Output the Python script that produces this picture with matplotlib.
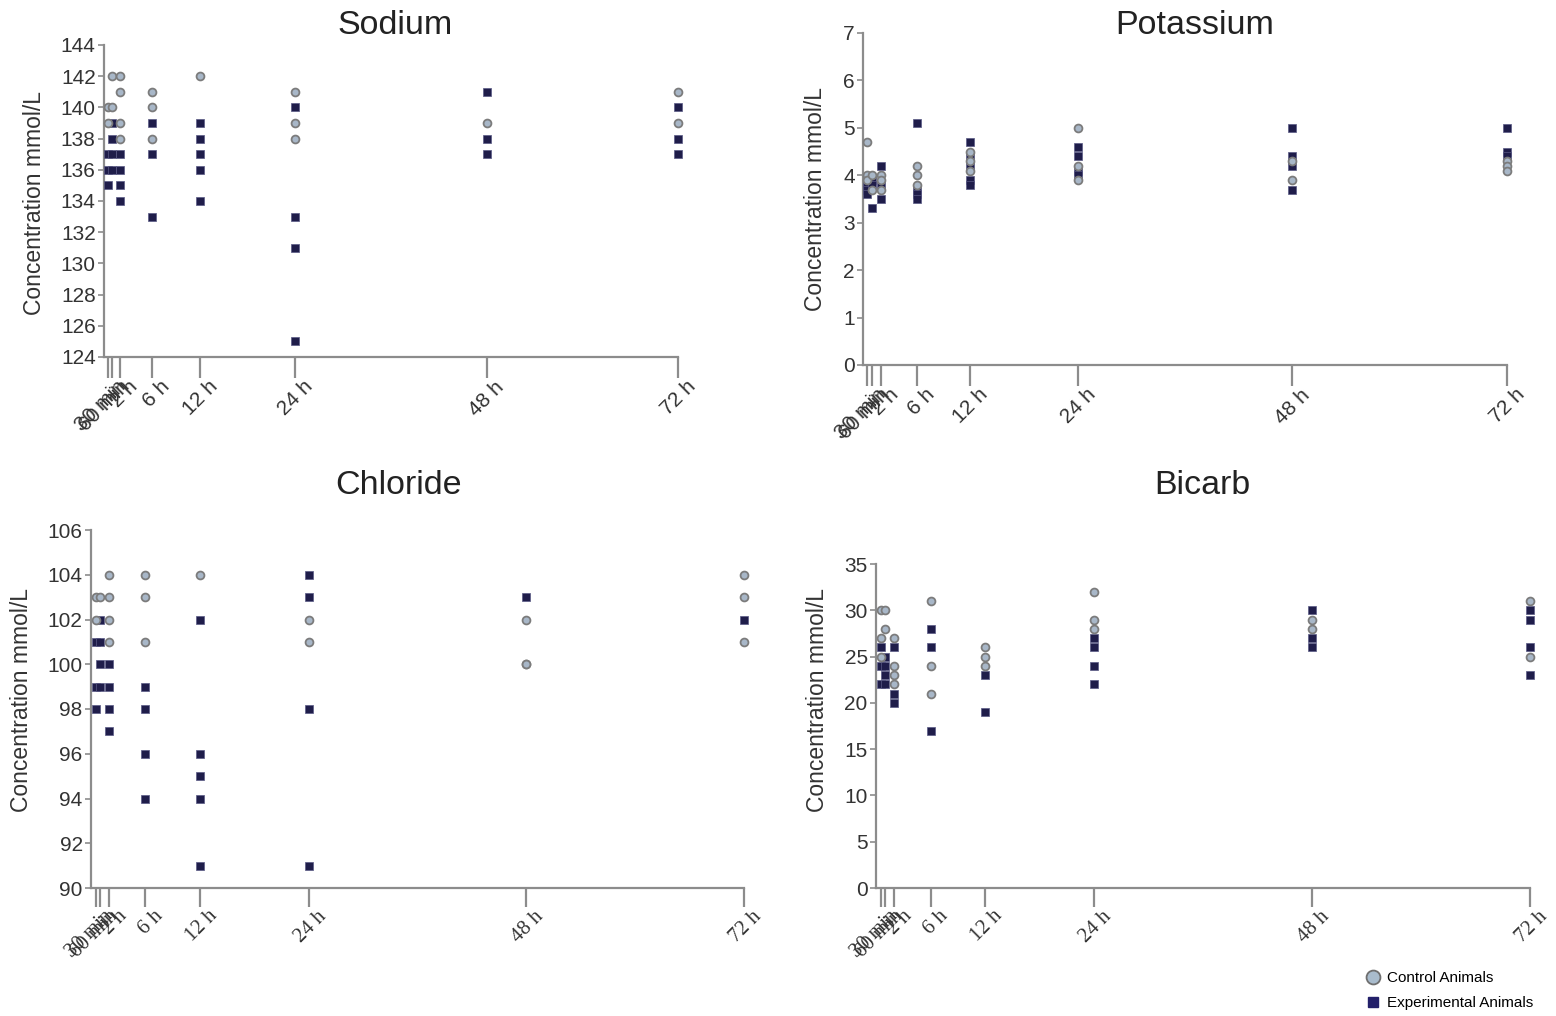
import matplotlib
matplotlib.use("Agg")
import matplotlib.pyplot as plt
from matplotlib.lines import Line2D
from matplotlib.transforms import ScaledTranslation

# ---- data ----
times = [0.5, 1, 2, 6, 12, 24, 48, 72]
time_labels = ["30 min", "60 min", "2 h", "6 h", "12 h", "24 h", "48 h", "72 h"]

sodium_control = [[140, 139], [142, 140], [142, 141, 139, 138], [141, 140, 138],
                  [142], [141, 139, 138], [139], [141, 139]]
sodium_exp = [[137, 136, 135], [139, 138, 137, 136], [137, 136, 135, 134], [139, 137, 133],
              [139, 138, 137, 136, 134], [140, 133, 131, 125], [141, 138, 137], [140, 138, 137]]

potassium_control = [[4.7, 4.0, 3.9], [4.0, 3.7], [4.0, 3.9, 3.7], [4.2, 4.0, 3.8],
                     [4.5, 4.3, 4.1], [5.0, 4.2, 3.9], [4.3, 3.9], [4.3, 4.2, 4.1]]
potassium_exp = [[3.8, 3.7, 3.6], [3.9, 3.8, 3.3], [4.2, 3.8, 3.5], [5.1, 3.7, 3.6, 3.5],
                 [4.7, 4.4, 4.2, 3.9, 3.8], [4.6, 4.4, 4.1, 4.0], [5.0, 4.4, 4.2, 3.7], [5.0, 4.5, 4.4]]

chloride_control = [[103, 102], [103], [104, 103, 102, 101], [104, 103, 101],
                    [104], [102, 101], [102, 100, 100], [104, 103, 101]]
chloride_exp = [[101, 99, 98], [102, 101, 100, 99], [100, 99, 98, 97], [99, 98, 96, 94],
                [102, 96, 95, 94, 91], [104, 103, 98, 91], [103], [102]]

bicarb_control = [[30, 27, 25], [30, 28], [27, 24, 23, 22], [31, 24, 21],
                  [26, 25, 24], [32, 29, 28], [29, 28], [31, 25]]
bicarb_exp = [[26, 24, 22], [25, 24, 23, 22], [26, 21, 20], [28, 26, 17],
              [23, 19], [27, 26, 24, 22], [30, 27, 26], [30, 29, 26, 23]]

W, H = 1556, 1016
fig = plt.figure(figsize=(W / 100, H / 100), dpi=100)

SANS = "Liberation Sans"
SERIF = "Liberation Serif"
CIRC_FACE = "#a8b7c8"
CIRC_EDGE = "#7c7c7c"
SQ_COLOR = "#1f1d4a"
SPINE = "#8c8c8c"


def px_axes(left, top, right, bottom):
    return fig.add_axes([left / W, 1 - bottom / H, (right - left) / W, (bottom - top) / H])


panels = [
    dict(name="Sodium", box=(104, 45, 678, 357), ctrl=sodium_control, exp=sodium_exp,
         ylim=(124, 144), yticks=list(range(124, 145, 2)), xfont=SANS, ticklen=15,
         title_xy=(395, 25), ylab_xy=(35, 203)),
    dict(name="Potassium", box=(863, 33, 1507, 365), ctrl=potassium_control, exp=potassium_exp,
         ylim=(0, 7), yticks=list(range(0, 8)), xfont=SANS, ticklen=15,
         title_xy=(1195, 25), ylab_xy=(815, 199)),
    dict(name="Chloride", box=(91, 530, 744, 888), ctrl=chloride_control, exp=chloride_exp,
         ylim=(90, 106), yticks=list(range(90, 107, 2)), xfont=SERIF, ticklen=14,
         title_xy=(399, 485), ylab_xy=(22, 700)),
    dict(name="Bicarb", box=(876, 564, 1530, 888), ctrl=bicarb_control, exp=bicarb_exp,
         ylim=(0, 35), yticks=list(range(0, 36, 5)), xfont=SERIF, ticklen=14,
         title_xy=(1202, 485), ylab_xy=(817, 700)),
]

shift = ScaledTranslation(8 / 100, 0, fig.dpi_scale_trans)

for p in panels:
    ax = px_axes(*p["box"])
    for t, vals in zip(times, p["exp"]):
        ax.scatter([t] * len(vals), vals, marker="s", s=26, color=SQ_COLOR,
                   edgecolors="#5a5a85", linewidths=0.5, zorder=3, clip_on=False)
    for t, vals in zip(times, p["ctrl"]):
        ax.scatter([t] * len(vals), vals, marker="o", s=32, facecolors=CIRC_FACE,
                   edgecolors=CIRC_EDGE, linewidths=1.3, zorder=4, clip_on=False)
    ax.set_xlim(0, 72)
    ax.set_ylim(*p["ylim"])
    ax.set_yticks(p["yticks"])
    ax.set_xticks(times)
    for s in ("top", "right"):
        ax.spines[s].set_visible(False)
    for s in ("left", "bottom"):
        ax.spines[s].set_color(SPINE)
        ax.spines[s].set_linewidth(1.6)
    ax.tick_params(axis="x", length=p["ticklen"], width=1.6, color=SPINE, pad=-0.5)
    ax.tick_params(axis="y", length=4, width=1.2, color=SPINE, pad=2)
    ax.set_xticklabels(time_labels, rotation=45, ha="right", va="top",
                       rotation_mode="anchor", fontfamily=p["xfont"], fontsize=15,
                       color="#333333")
    for lab in ax.get_yticklabels():
        lab.set_fontfamily(SANS)
        lab.set_fontsize(15)
        lab.set_color("#333333")
    for lab in ax.get_xticklabels():
        lab.set_transform(lab.get_transform() + shift)
    fig.text(p["title_xy"][0] / W, 1 - p["title_xy"][1] / H, p["name"],
             ha="center", va="center", fontsize=24.5, fontfamily=SANS, color="#222222")
    fig.text(p["ylab_xy"][0] / W, 1 - p["ylab_xy"][1] / H, "Concentration mmol/L",
             ha="center", va="center", rotation=90, fontsize=16.5, fontfamily=SANS,
             color="#333333")

handles = [
    Line2D([], [], marker="o", linestyle="", markersize=10, markerfacecolor="#a9bccd",
           markeredgecolor="#6f6f6f", markeredgewidth=1.3, label="Control Animals"),
    Line2D([], [], marker="s", linestyle="", markersize=7.5, markerfacecolor="#23206a",
           markeredgecolor="#23206a", label="Experimental Animals"),
]
fig.legend(handles=handles, loc="upper left", bbox_to_anchor=(1364 / W, 1 - 971 / H),
           frameon=False, handletextpad=0.3, handlelength=1.2, labelspacing=0.72,
           borderaxespad=0, borderpad=0,
           prop={"family": "Liberation Sans", "size": 11})

fig.savefig("out.png", dpi=100, facecolor="white")
